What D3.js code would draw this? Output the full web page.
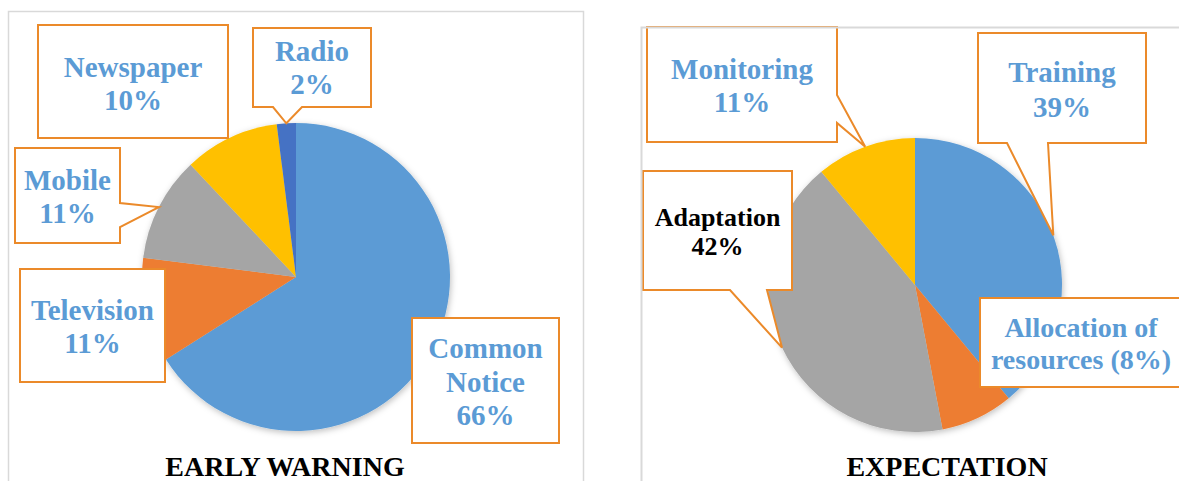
<!DOCTYPE html>
<html lang="en">
<head>
<meta charset="UTF-8" />
<title>Early warning / Expectation</title>
<script src="https://d3js.org/d3.v7.min.js"></script>
<style>
  body { margin: 0; background: #fff; }
</style>
</head>
<body>
<svg width="1179" height="481"></svg>
<script>
// data
var ewCategories = ['Common Notice', 'Television', 'Mobile', 'Newspaper', 'Radio']
var ewValues = [66, 11, 11, 10, 2]
var ewColors = ['#5B9BD5', '#ED7D31', '#A5A5A5', '#FFC000', '#4472C4']

var exCategories = ['Training', 'Allocation of resources', 'Adaptation', 'Monitoring']
var exValues = [39, 8, 42, 11]
var exColors = ['#5B9BD5', '#ED7D31', '#A5A5A5', '#FFC000']

var svg = d3.select('svg')
var boxStroke = '#EB8A2A'
var labelBlue = '#5B9BD5'
var serif = "'Liberation Serif', Tinos, 'Times New Roman', 'DejaVu Serif', serif"

// soft shadow for the pies
var defs = svg.append('defs')
defs.append('filter').attr('id', 'shadow')
  .attr('x', '-20%').attr('y', '-20%').attr('width', '140%').attr('height', '140%')
  .append('feDropShadow')
  .attr('dx', 1).attr('dy', 2).attr('stdDeviation', 3)
  .attr('flood-color', '#000').attr('flood-opacity', 0.25)

// left panel frame
svg.append('rect').attr('x', 8.5).attr('y', 11.5).attr('width', 575).attr('height', 500)
  .attr('fill', 'none').attr('stroke', '#D9D9D9').attr('stroke-width', 1.5)

// callout box with optional pointer
function callout(b, tip) {
  var x = b.x, y = b.y, w = b.w, h = b.h
  if (b.side === 'right') {
    return 'M' + x + ',' + y + 'H' + (x + w) + 'V' + b.p[0] + 'L' + tip[0] + ',' + tip[1] +
      'L' + (x + w) + ',' + b.p[1] + 'V' + (y + h) + 'H' + x + 'Z'
  }
  if (b.side === 'bottom') {
    return 'M' + x + ',' + y + 'H' + (x + w) + 'V' + (y + h) + 'H' + b.p[1] + 'L' + tip[0] + ',' + tip[1] +
      'L' + b.p[0] + ',' + (y + h) + 'H' + x + 'Z'
  }
  return 'M' + x + ',' + y + 'H' + (x + w) + 'V' + (y + h) + 'H' + x + 'Z'
}

function drawPie(opt) {
  var g = svg.append('g')
  var pie = d3.pie().sort(null).value(function (d) { return d.value })
  var arcs = pie(opt.categories.map(function (c, i) {
    return { name: c, value: opt.values[i], color: opt.colors[i] }
  }))
  var arc = d3.arc().innerRadius(0).outerRadius(opt.r)

  var pg = g.append('g')
    .attr('transform', 'translate(' + opt.cx + ',' + opt.cy + ')')
    .attr('filter', 'url(#shadow)')
  pg.selectAll('path')
    .data(arcs)
    .enter()
    .append('path')
    .attr('d', arc)
    .attr('fill', function (d) { return d.data.color })

  // callout labels, pointer tip sits on the arc at the slice middle
  arcs.forEach(function (d, i) {
    var b = opt.boxes[i]
    var mid = (d.startAngle + d.endAngle) / 2
    var tip = [opt.cx + opt.r * Math.sin(mid), opt.cy - opt.r * Math.cos(mid)]
    g.append('path')
      .attr('d', callout(b, tip))
      .attr('fill', '#fff')
      .attr('stroke', boxStroke)
      .attr('stroke-width', 2)
    var lines = b.lines ? b.lines(d.data) : [d.data.name, d.data.value + '%']
    var t = g.append('text')
      .attr('text-anchor', 'middle')
      .attr('font-family', serif)
      .attr('font-weight', 'bold')
      .attr('font-size', b.fs || 29)
      .attr('fill', b.color || labelBlue)
    lines.forEach(function (l, k) {
      t.append('tspan')
        .attr('x', b.tx || b.x + b.w / 2)
        .attr('y', b.ty + k * (b.lh || 33))
        .text(l)
    })
  })

  g.append('text')
    .attr('x', opt.titleX)
    .attr('y', opt.titleY)
    .attr('text-anchor', 'middle')
    .attr('font-family', serif)
    .attr('font-weight', 'bold')
    .attr('font-size', 28)
    .attr('fill', '#000')
    .text(opt.title)
}

drawPie({
  categories: ewCategories, values: ewValues, colors: ewColors,
  cx: 296, cy: 277, r: 154,
  title: 'EARLY WARNING', titleX: 285, titleY: 476,
  boxes: [
    { x: 412, y: 318, w: 147, h: 125, ty: 358, lh: 33.5,
      lines: function (d) { return ['Common', 'Notice', d.value + '%'] } },
    { x: 20, y: 269, w: 145, h: 113, ty: 320 },
    { x: 15, y: 148, w: 105, h: 95, ty: 190, side: 'right', p: [203, 227] },
    { x: 38, y: 25, w: 190, h: 113, ty: 77 },
    { x: 253, y: 28, w: 118, h: 79, ty: 61, side: 'bottom', p: [273, 302] }
  ]
})

drawPie({
  categories: exCategories, values: exValues, colors: exColors,
  cx: 915, cy: 285, r: 147,
  title: 'EXPECTATION', titleX: 947, titleY: 476,
  boxes: [
    { x: 978, y: 33, w: 168, h: 110, ty: 82, lh: 35, side: 'bottom', p: [1007, 1048] },
    { x: 980, y: 298, w: 210, h: 89, ty: 337, lh: 32, fs: 28, tx: 1081,
      lines: function (d) { return ['Allocation of', 'resources (' + d.value + '%)'] } },
    { x: 643, y: 171, w: 149, h: 119, ty: 226, lh: 29, fs: 26, color: '#000',
      side: 'bottom', p: [730, 767] },
    { x: 647, y: 27, w: 190, h: 115, ty: 79, side: 'right', p: [95, 123] }
  ]
})

// right panel frame drawn last so it sits over the box top it cuts
svg.append('path')
  .attr('d', 'M641.5,495V27.5H1185')
  .attr('fill', 'none').attr('stroke', '#D9D9D9').attr('stroke-width', 2)
</script>
</body>
</html>
